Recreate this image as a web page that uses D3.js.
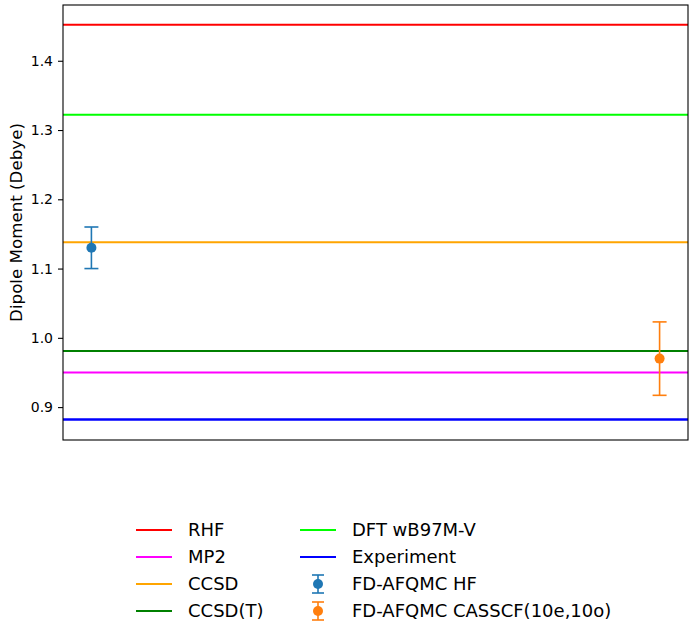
<!DOCTYPE html>
<html>
<head>
<meta charset="utf-8">
<script src="https://cdn.jsdelivr.net/npm/d3@7"></script>
<style>
  body { margin: 0; background: #fff; }
  text { font-family: "DejaVu Sans", sans-serif; }
</style>
</head>
<body>
<div id="chart"></div>
<script>
// reference lines (axhline)
const methods = ["RHF", "MP2", "CCSD", "CCSD(T)", "DFT wB97M-V", "Experiment"];
const methodValues = [1.452, 0.950, 1.138, 0.981, 1.322, 0.882];
const methodColors = ["#ff0000", "#ff00ff", "#ffa500", "#008000", "#00ff00", "#0000ff"];

// FD-AFQMC points with error bars
const afqmcLabels = ["FD-AFQMC HF", "FD-AFQMC CASSCF(10e,10o)"];
const afqmcX = [0, 1];
const afqmcValues = [1.130, 0.970];
const afqmcErrors = [0.030, 0.053];
const afqmcColors = ["#1f77b4", "#ff7f0e"];

const yTicks = [0.9, 1.0, 1.1, 1.2, 1.3, 1.4];

const width = 698, height = 626;
const margin = { left: 63, right: 10, top: 5, bottom: 186 };
const plotW = width - margin.left - margin.right;
const plotH = height - margin.top - margin.bottom;

const svg = d3.select("#chart").append("svg")
  .attr("width", width)
  .attr("height", height);

const g = svg.append("g")
  .attr("transform", "translate(" + margin.left + "," + margin.top + ")");

const x = d3.scaleLinear().domain([-0.05, 1.05]).range([0, plotW]);
const y = d3.scaleLinear().domain([0.8525, 1.4805]).range([plotH, 0]);

// horizontal method lines
g.append("g").selectAll("line")
  .data(methods)
  .enter().append("line")
  .attr("x1", 0)
  .attr("x2", plotW)
  .attr("y1", (d, i) => y(methodValues[i]))
  .attr("y2", (d, i) => y(methodValues[i]))
  .attr("stroke", (d, i) => methodColors[i])
  .attr("stroke-width", (d, i) => d === "Experiment" ? 2.6 : 2);

// error bars
const eb = g.append("g").selectAll("g")
  .data(afqmcLabels)
  .enter().append("g");

eb.append("line")
  .attr("x1", (d, i) => x(afqmcX[i]))
  .attr("x2", (d, i) => x(afqmcX[i]))
  .attr("y1", (d, i) => y(afqmcValues[i] - afqmcErrors[i]))
  .attr("y2", (d, i) => y(afqmcValues[i] + afqmcErrors[i]))
  .attr("stroke", (d, i) => afqmcColors[i])
  .attr("stroke-width", 1.6);

[-1, 1].forEach(function(s) {
  eb.append("line")
    .attr("x1", (d, i) => x(afqmcX[i]) - 7)
    .attr("x2", (d, i) => x(afqmcX[i]) + 7)
    .attr("y1", (d, i) => y(afqmcValues[i] + s * afqmcErrors[i]))
    .attr("y2", (d, i) => y(afqmcValues[i] + s * afqmcErrors[i]))
    .attr("stroke", (d, i) => afqmcColors[i])
    .attr("stroke-width", 1.6);
});

eb.append("circle")
  .attr("cx", (d, i) => x(afqmcX[i]))
  .attr("cy", (d, i) => y(afqmcValues[i]))
  .attr("r", 5)
  .attr("fill", (d, i) => afqmcColors[i]);

// y axis
const yAxis = g.append("g")
  .call(d3.axisLeft(y).tickValues(yTicks).tickFormat(d3.format(".1f")).tickSizeOuter(0).tickSize(5).tickPadding(5));
yAxis.select(".domain").remove();
yAxis.selectAll("line").attr("stroke", "#000").attr("stroke-width", 1.1);
yAxis.selectAll("text").attr("font-size", 14).attr("fill", "#000")
  .attr("font-family", "DejaVu Sans");

// frame
g.append("rect")
  .attr("x", 0).attr("y", 0)
  .attr("width", plotW).attr("height", plotH)
  .attr("fill", "none")
  .attr("stroke", "#000")
  .attr("stroke-width", 1.1);

// y label
svg.append("text")
  .attr("transform", "translate(22," + (margin.top + plotH / 2) + ") rotate(-90)")
  .attr("text-anchor", "middle")
  .attr("font-size", 16.7)
  .text("Dipole Moment (Debye)");

// legend, two columns filled column-wise
const legendItems = methods.map((m, i) => ({ label: m, color: methodColors[i], type: "line" }))
  .concat(afqmcLabels.map((m, i) => ({ label: m, color: afqmcColors[i], type: "err" })));

const colX = [136, 300];
const rowY0 = 530, rowStep = 27;
const legend = svg.append("g");

legendItems.forEach(function(item, k) {
  const col = Math.floor(k / 4), row = k % 4;
  const lx = colX[col], ly = rowY0 + row * rowStep;
  const it = legend.append("g").attr("transform", "translate(" + lx + "," + ly + ")");
  if (item.type === "line") {
    it.append("line").attr("x1", 0).attr("x2", 36).attr("y1", 0).attr("y2", 0)
      .attr("stroke", item.color).attr("stroke-width", 2);
  } else {
    it.append("line").attr("x1", 18).attr("x2", 18).attr("y1", -9).attr("y2", 9)
      .attr("stroke", item.color).attr("stroke-width", 1.6);
    [-9, 9].forEach(function(v) {
      it.append("line").attr("x1", 12).attr("x2", 24).attr("y1", v).attr("y2", v)
        .attr("stroke", item.color).attr("stroke-width", 1.6);
    });
    it.append("circle").attr("cx", 18).attr("cy", 0).attr("r", 5).attr("fill", item.color);
  }
  it.append("text")
    .attr("x", 52)
    .attr("y", 0)
    .attr("dy", "0.35em")
    .attr("font-size", 18)
    .text(item.label);
});
</script>
</body>
</html>
